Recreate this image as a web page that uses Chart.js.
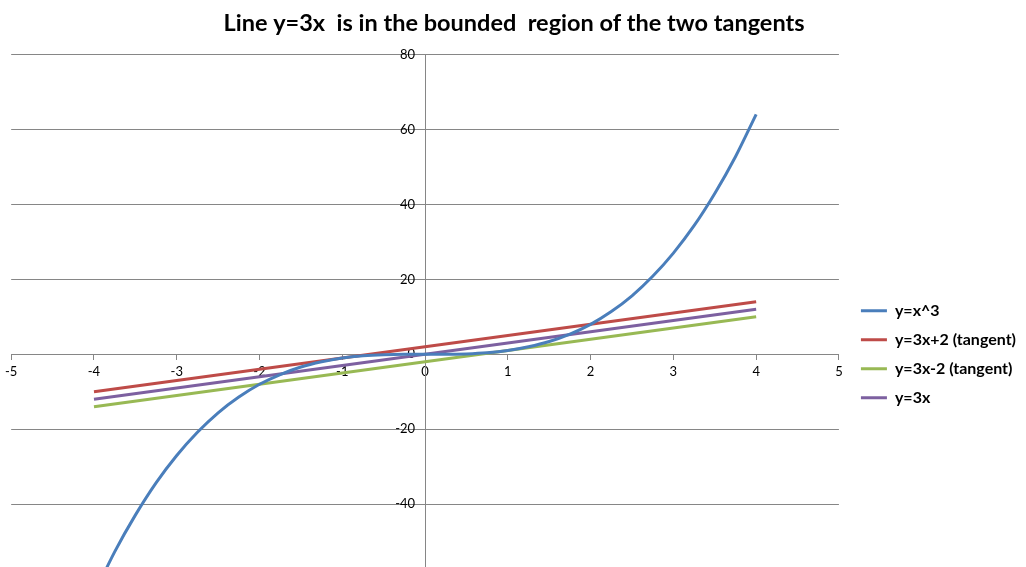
<!DOCTYPE html>
<html>
<head>
<meta charset="utf-8">
<script src="https://cdn.jsdelivr.net/npm/chart.js@4"></script>
<style>
html,body{margin:0;padding:0;overflow:hidden;background:#fff;}
#wrap{width:1026px;height:670px;}
</style>
</head>
<body>
<div id="wrap"><canvas id="c" width="1026" height="670"></canvas></div>
<script>
const titleText = 'Line y=3x  is in the bounded  region of the two tangents';
const seriesNames = ['y=x^3', 'y=3x+2 (tangent)', 'y=3x-2 (tangent)', 'y=3x'];
const seriesColors = ['#4A7EBB', '#BE4B48', '#98B954', '#7D60A0'];

const cubicX = [-4,-3.75,-3.5,-3.25,-3,-2.75,-2.5,-2.25,-2,-1.75,-1.5,-1.25,-1,-0.75,-0.5,-0.25,0,0.25,0.5,0.75,1,1.25,1.5,1.75,2,2.25,2.5,2.75,3,3.25,3.5,3.75,4];
const cubicY = [-64,-52.7,-42.9,-34.3,-27,-20.8,-15.6,-11.4,-8,-5.4,-3.4,-2,-1,-0.4,-0.1,0,0,0,0.1,0.4,1,2,3.4,5.4,8,11.4,15.6,20.8,27,34.3,42.9,52.7,64];
const lineX = [-4, 4];
const tangentUpperY = [-10, 14];
const tangentLowerY = [-14, 10];
const lineY = [-12, 12];

const xTicks = [-5,-4,-3,-2,-1,0,1,2,3,4,5];
const yTicks = [-80,-60,-40,-20,0,20,40,60,80];

function pts(xs, ys){ return xs.map((x,i)=>({x:x, y:ys[i]})); }

const allY = [cubicY, tangentUpperY, tangentLowerY, lineY];
const allX = [cubicX, lineX, lineX, lineX];

const datasets = seriesNames.map((n,i)=>({
  label: n,
  data: pts(allX[i], allY[i]),
  borderColor: seriesColors[i],
  backgroundColor: seriesColors[i],
  borderWidth: 3,
  pointRadius: 0,
  fill: false,
  cubicInterpolationMode: i===0 ? 'monotone' : 'default',
  tension: 0
}));

const grey = '#868686';
const font = 'Lato, "Open Sans", sans-serif';
const LEGEND_GAP = 9;
const TITLE_SHIFT = 4;

const layoutTweaks = {
  id: 'layoutTweaks',
  beforeLayout(chart){
    const lg = chart.legend;
    if (lg && !lg.__gapPatched){
      const orig = lg.fit;
      lg.fit = function(){ orig.call(this); this.width += LEGEND_GAP; };
      lg.__gapPatched = true;
    }
  },
  afterLayout(chart){
    const lg = chart.legend;
    if (lg){ lg.left += LEGEND_GAP; lg.right += LEGEND_GAP; }
    const t = chart.titleBlock;
    if (t){ t.left -= TITLE_SHIFT; t.right -= TITLE_SHIFT; }
  }
};

new Chart(document.getElementById('c'), {
  type: 'line',
  data: { datasets: datasets },
  plugins: [layoutTweaks],
  options: {
    responsive: false,
    animation: false,
    layout: { padding: { left: 10, right: 0, top: 0, bottom: 0 } },
    plugins: {
      title: {
        display: true,
        text: titleText,
        color: '#000',
        font: { family: font, size: 23.5, weight: 'bold' },
        padding: { top: 9, bottom: 17.2 }
      },
      legend: {
        position: 'right',
        fullSize: false,
        align: 'center',
        labels: {
          color: '#000',
          font: { family: font, size: 16, weight: 'bold' },
          boxWidth: 26,
          boxHeight: 3,
          padding: 13,
          generateLabels: function(chart){
            const items = Chart.defaults.plugins.legend.labels.generateLabels(chart);
            items.forEach(it=>{ it.lineWidth = 0; });
            return items;
          }
        }
      },
      tooltip: { enabled: false }
    },
    scales: {
      x: {
        type: 'linear',
        position: { y: 0 },
        min: -5, max: 5,
        afterBuildTicks: function(s){ s.ticks = xTicks.map(v=>({value:v})); },
        ticks: { color: '#000', font: { family: font, size: 13 }, padding: 5, maxRotation: 0 },
        grid: { drawOnChartArea: false, drawTicks: true, tickLength: 5, color: grey, lineWidth: 1 },
        border: { display: true, color: grey, width: 1 }
      },
      y: {
        type: 'linear',
        position: { x: 0 },
        min: -80, max: 80,
        afterBuildTicks: function(s){ s.ticks = yTicks.map(v=>({value:v})); },
        ticks: {
          color: '#000', font: { family: font, size: 13 }, padding: 8,
          callback: function(v){ return String(v) + '   '; }
        },
        grid: { drawOnChartArea: true, drawTicks: true, tickLength: 8, color: grey, lineWidth: 1 },
        border: { display: true, color: grey, width: 1 }
      }
    }
  }
});
</script>
</body>
</html>
